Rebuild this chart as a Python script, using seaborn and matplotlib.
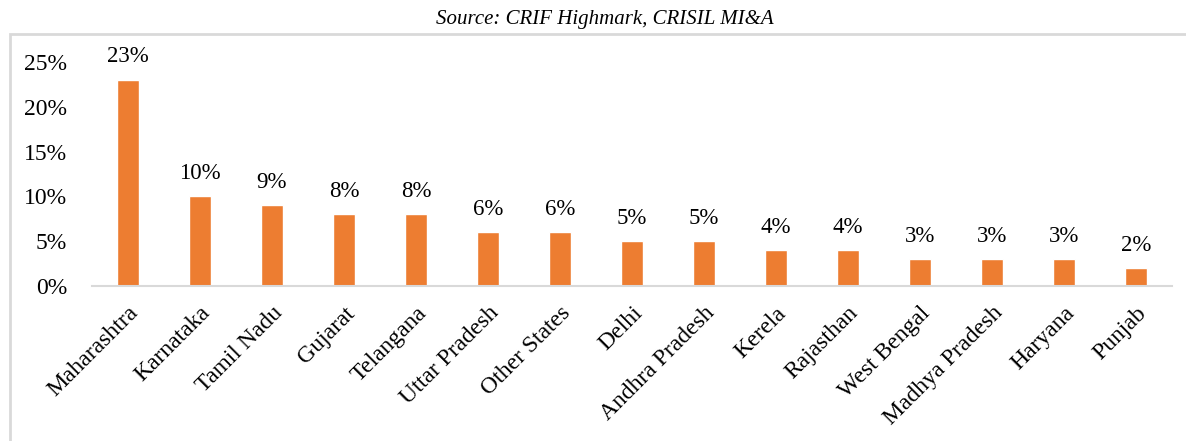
import matplotlib
matplotlib.use("Agg")
import matplotlib.pyplot as plt
import seaborn as sns
import pandas as pd
from matplotlib.patches import Rectangle
from matplotlib.ticker import FuncFormatter

states = ["Maharashtra", "Karnataka", "Tamil Nadu", "Gujarat", "Telangana",
          "Uttar Pradesh", "Other States", "Delhi", "Andhra Pradesh", "Kerela",
          "Rajasthan", "West Bengal", "Madhya Pradesh", "Haryana", "Punjab"]
share = [23, 10, 9, 8, 8, 6, 6, 5, 5, 4, 4, 3, 3, 3, 2]
y_ticks = [0, 5, 10, 15, 20, 25]

df = pd.DataFrame({"state": states, "share": share})

sns.set_theme(style="white")
plt.rcParams["font.family"] = ["Liberation Serif", "DejaVu Serif"]

fig = plt.figure(figsize=(11.86, 4.41), dpi=100)
ax = fig.add_axes([0.0776, 0.3515, 0.9104, 0.5079])

sns.barplot(data=df, x="state", y="share", color="#ED7D31", width=0.31,
            saturation=1, ax=ax)

ax.set_ylim(0, 25)
ax.set_yticks(y_ticks)
ax.yaxis.set_major_formatter(FuncFormatter(lambda v, _: f"{v:.0f}%"))
ax.tick_params(axis="y", length=0, labelsize=17, pad=18, labelcolor="black")
ax.tick_params(axis="x", length=0, labelsize=17, pad=12, labelcolor="black")
ax.set_xlim(-0.5, len(states) - 0.5)
ax.set_xlabel("")
ax.set_ylabel("")
for lbl in ax.get_xticklabels():
    lbl.set_rotation(45)
    lbl.set_ha("right")
    lbl.set_rotation_mode("anchor")

for s in ["top", "right", "left"]:
    ax.spines[s].set_visible(False)
ax.spines["bottom"].set_color("#D9D9D9")
ax.spines["bottom"].set_linewidth(1.5)

for i, v in enumerate(share):
    ax.annotate(f"{v}%", (i, v), xytext=(0, 9), textcoords="offset points",
                ha="center", va="bottom", fontsize=16.5, color="black",
                annotation_clip=False)

# outer frame around the chart area
fig.patches.append(Rectangle((10 / 1186, -0.1), 1.2, 0.1 + (1 - 34 / 441),
                             transform=fig.transFigure, fill=False,
                             edgecolor="#D9D9D9", linewidth=2))

fig.text(0.51, 0.955, "Source: CRIF Highmark, CRISIL MI&A", ha="center",
         va="center", fontsize=15, style="italic", color="black")

fig.savefig("out.png", dpi=100)
